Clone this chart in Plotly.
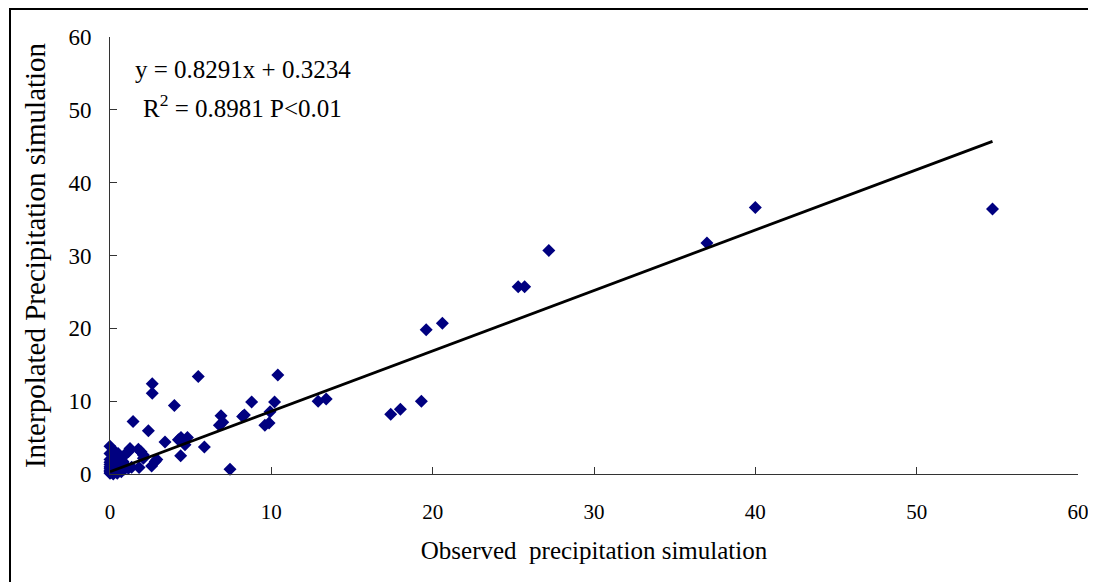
import plotly.graph_objects as go

# Observed (x) vs interpolated (y) precipitation simulation
observed = [
    0, 0, 0, 0, 0, 0, 0, 0, 0, 0,
    0.05, 0.1, 0.15, 0.2, 0.2, 0.3, 0.3, 0.35, 0.4, 0.45,
    0.5, 0.5, 0.6, 0.6, 0.7, 0.7, 0.8, 0.9, 0.9, 1.0,
    1.14, 1.14, 1.24, 1.34, 1.43, 1.76, 1.8, 1.92, 2.07, 2.07,
    2.38, 2.58, 2.62, 2.62, 2.8, 2.9, 3.41, 3.99, 4.24, 4.38,
    4.4, 4.65, 4.8, 5.47, 5.85, 6.78, 6.88, 6.99, 7.44, 8.22,
    8.33, 8.78, 9.6, 9.86, 9.92, 10.2, 10.4, 12.9, 13.4, 17.4,
    18.0, 19.3, 19.6, 20.6, 25.3, 25.7, 27.2, 37.0, 40.0, 54.7,
]
interpolated = [
    0.1, 0.3, 0.5, 0.8, 1.0, 1.3, 1.6, 2.0, 2.8, 3.8,
    0.2, 0.6, 1.1, 0.0, 1.8, 0.4, 3.1, 1.4, 0.9, 0.1,
    2.8, 0.5, 2.4, 1.2, 0.3, 2.1, 1.7, 2.6, 0.7, 1.0,
    0.78, 3.06, 3.5, 0.92, 7.2, 3.4, 0.9, 3.06, 2.6, 2.15,
    5.95, 1.1, 11.1, 12.4, 1.7, 2.0, 4.4, 9.4, 4.7, 2.5,
    5.0, 4.0, 5.0, 13.4, 3.7, 6.7, 8.0, 7.1, 0.65, 7.9,
    8.1, 9.9, 6.7, 7.0, 8.55, 9.9, 13.6, 10.0, 10.3, 8.2,
    8.9, 10.0, 19.8, 20.7, 25.7, 25.7, 30.7, 31.7, 36.6, 36.4,
]

slope = 0.8291
intercept = 0.3234
x_ticks = [0, 10, 20, 30, 40, 50, 60]
y_ticks = [0, 10, 20, 30, 40, 50, 60]

fit_x = [min(observed), max(observed)]
fit_y = [slope * v + intercept for v in fit_x]

FONT = "Liberation Serif, Times New Roman, serif"

fig = go.Figure()
fig.add_trace(go.Scatter(
    x=observed, y=interpolated, mode="markers",
    marker=dict(symbol="diamond", size=10, color="#000080", line=dict(width=0)),
    showlegend=False, cliponaxis=False,
))
fig.add_trace(go.Scatter(
    x=fit_x, y=fit_y, mode="lines",
    line=dict(color="black", width=2.8),
    showlegend=False,
))

# the page body has an 8px margin, so the figure is drawn 8px in from the window edge
OFF = 8
W, H = 1096 - OFF, 582 - OFF
PL, PT, PR, PB = 110, 37, 1078, 474          # plot area in window pixels
L, T = PL - OFF, PT - OFF
R, B = 1096 - PR, 582 - PB
pw, ph = PR - PL, PB - PT

def px2paper_x(px):
    return (px - PL) / pw

def py2paper_y(py):
    return (PB - py) / ph

fig.update_layout(
    width=W, height=H,
    margin=dict(l=L, r=R, t=T, b=B, autoexpand=False),
    paper_bgcolor="white", plot_bgcolor="white",
    font=dict(family=FONT, color="black"),
    xaxis=dict(
        range=[0, 60], tickvals=x_ticks, ticktext=[str(v) for v in x_ticks],
        showgrid=False, zeroline=False, showline=True, linecolor="#333333", linewidth=1,
        ticks="inside", ticklen=7, tickcolor="#333333",
        tickfont=dict(family=FONT, size=21), ticklabelstandoff=19,
        title=dict(text="Observed\u00a0 precipitation simulation",
                   font=dict(family=FONT, size=25), standoff=18),
        automargin=False,
    ),
    yaxis=dict(
        range=[0, 60], tickvals=y_ticks, ticktext=[str(v) for v in y_ticks],
        showgrid=False, zeroline=False, showline=True, linecolor="#333333", linewidth=1,
        ticks="inside", ticklen=7, tickcolor="#333333",
        tickfont=dict(family=FONT, size=23), ticklabelstandoff=13,
        title=dict(text="Interpolated Precipitation simulation",
                   font=dict(family=FONT, size=29), standoff=14),
        automargin=False,
    ),
    annotations=[
        dict(text="y = 0.8291x + 0.3234", xref="paper", yref="paper",
             x=px2paper_x(133), y=py2paper_y(70), xanchor="left", yanchor="middle",
             showarrow=False, font=dict(family=FONT, size=25)),
        dict(text="R<sup>2</sup> = 0.8981 P&lt;0.01", xref="paper", yref="paper",
             x=px2paper_x(141), y=py2paper_y(106), xanchor="left", yanchor="middle",
             showarrow=False, font=dict(family=FONT, size=25)),
    ],
    shapes=[
        dict(type="rect", xref="paper", yref="paper",
             x0=px2paper_x(10), x1=px2paper_x(1094),
             y0=py2paper_y(600), y1=py2paper_y(OFF + 1),
             line=dict(color="black", width=2), fillcolor="rgba(0,0,0,0)", layer="below"),
    ],
)

fig.write_html("out.html")
